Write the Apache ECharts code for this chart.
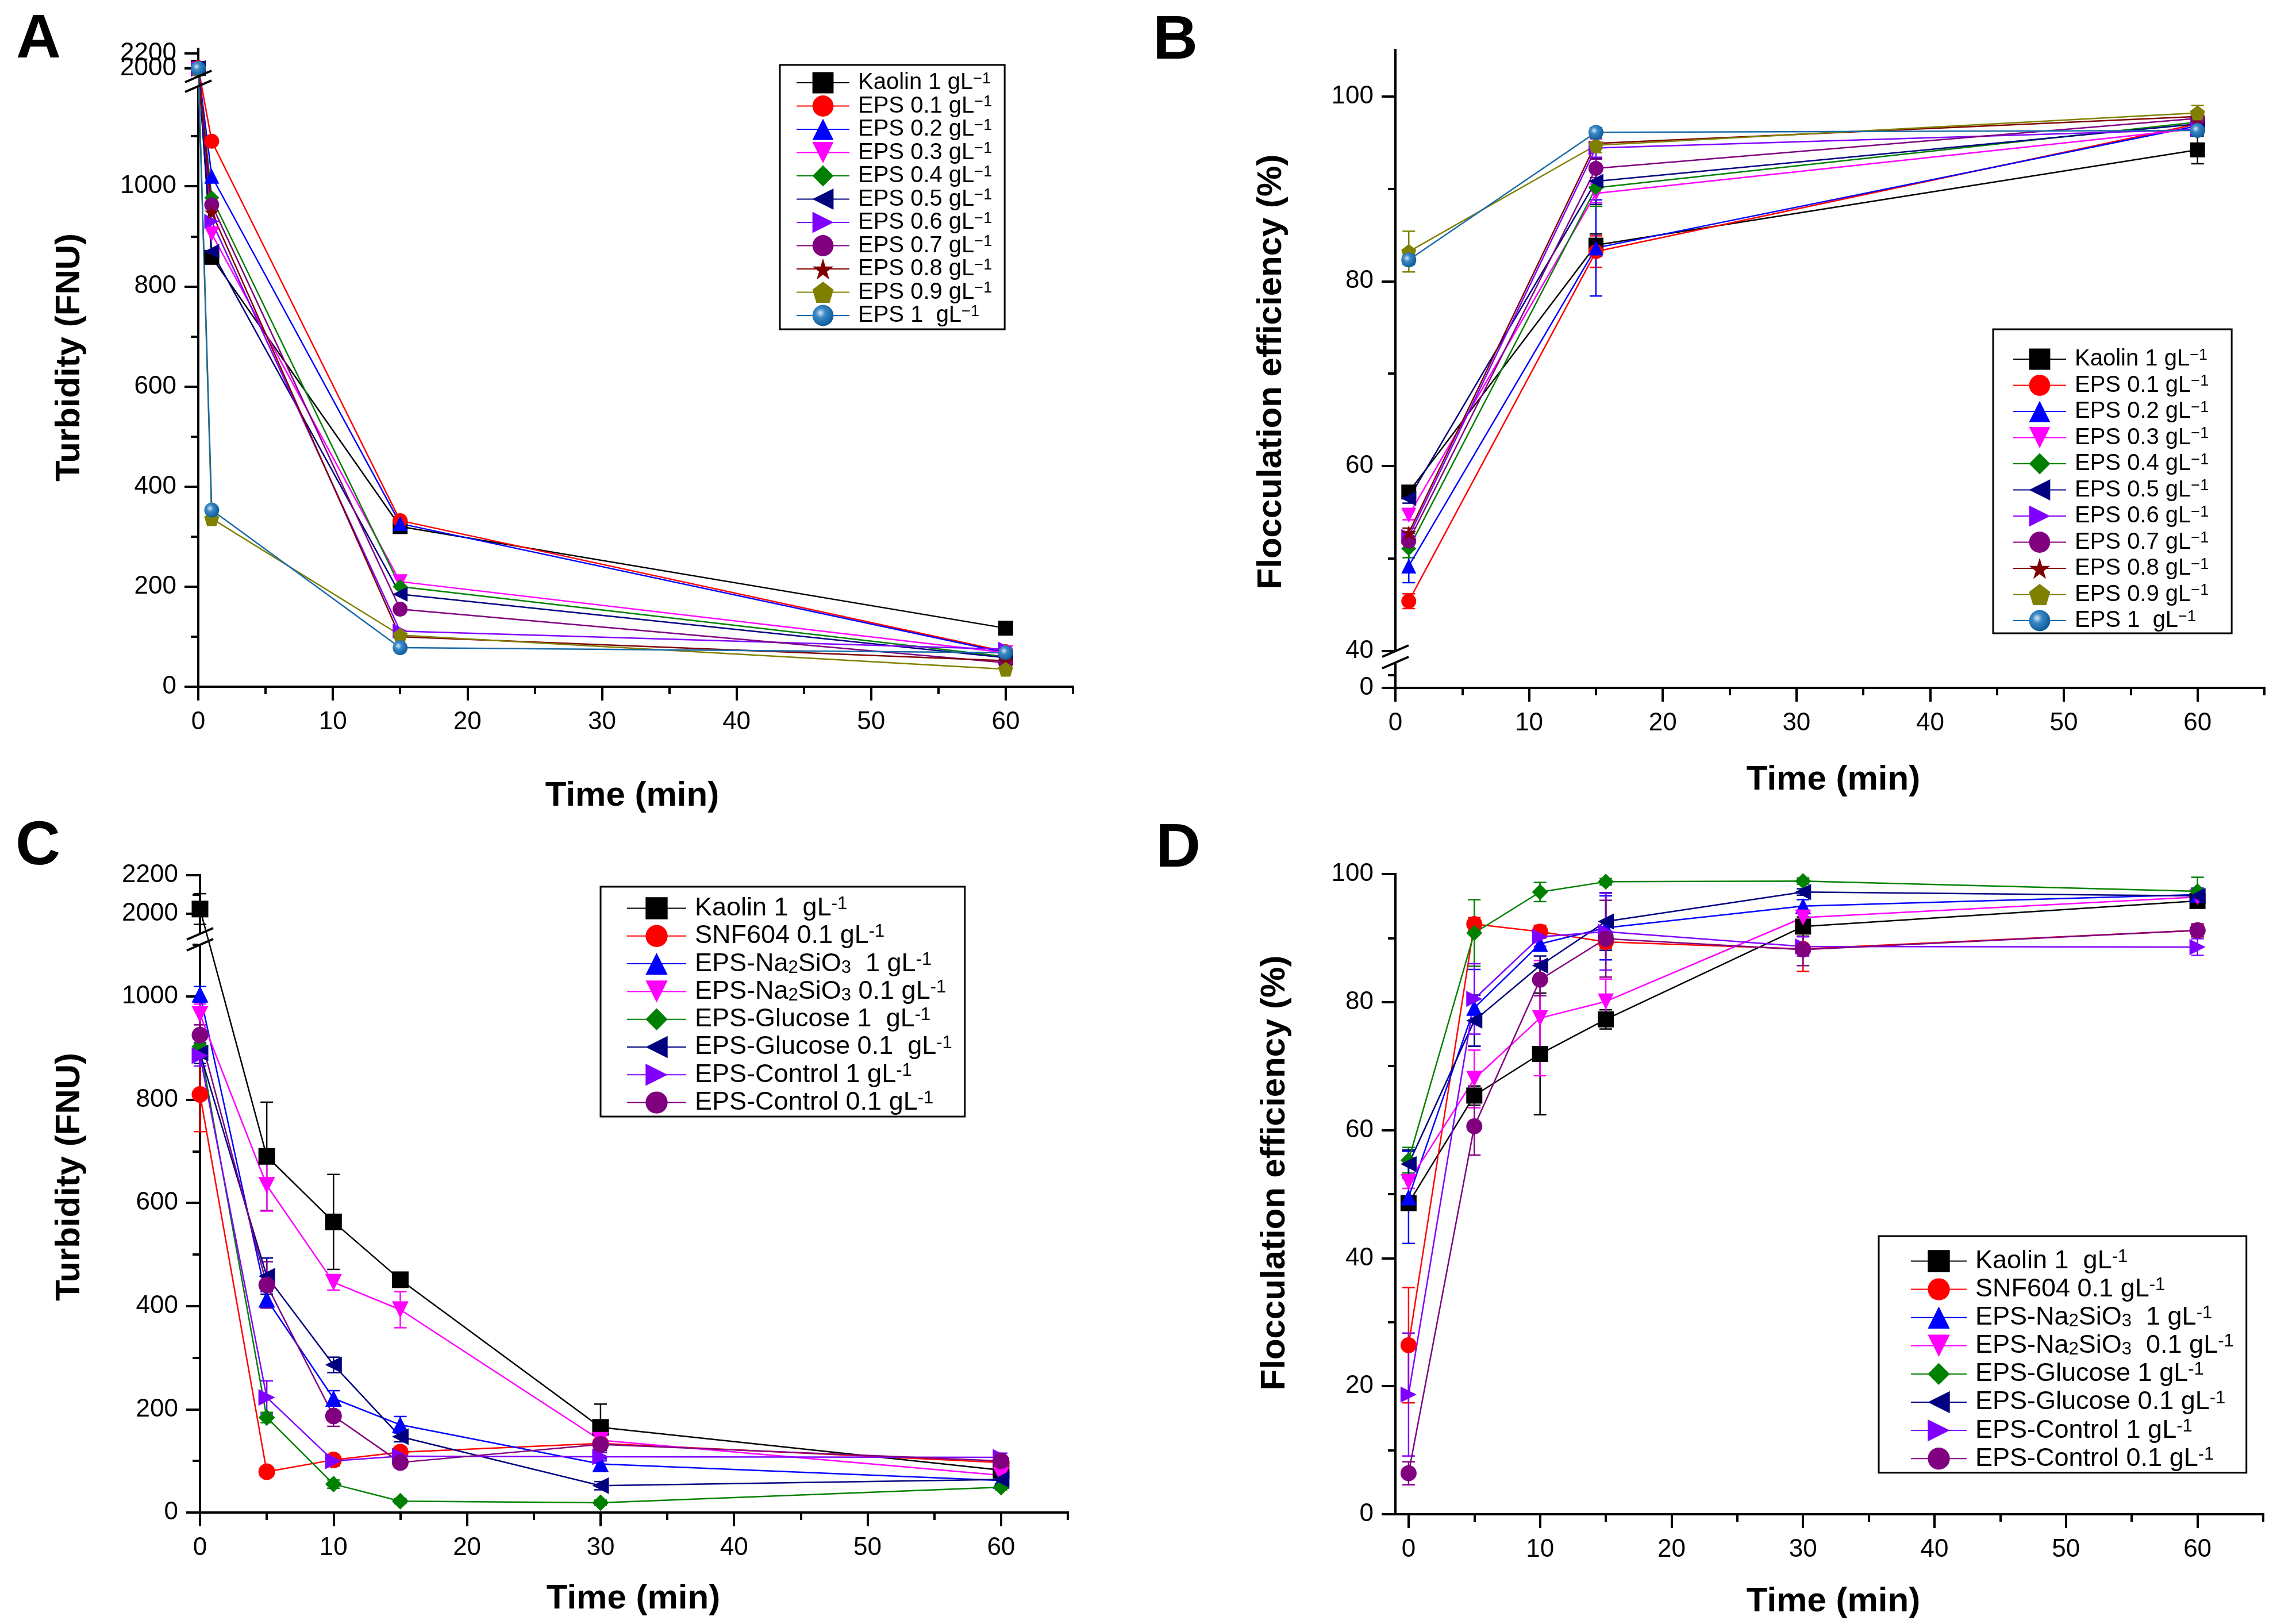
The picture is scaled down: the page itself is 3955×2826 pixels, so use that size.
<!DOCTYPE html>
<html>
<head>
<meta charset="utf-8">
<title>Turbidity and flocculation efficiency</title>
<script src="https://cdn.jsdelivr.net/npm/echarts@6.0.0/dist/echarts.min.js"></script>
<style>
  html, body { margin: 0; padding: 0; background: #fff; }
  #chart { width: 3955px; height: 2826px; }
</style>
</head>
<body>
<div id="chart"></div>
<script>
// ---- values ----
const TIMES_A = [0, 1, 15, 60];
const TIMES_B = [1, 15, 60];
const TIMES_CD = [0, 5, 10, 15, 30, 60];

// legend texts ({sup|..} / {sub|..} are rich-text fragments)
const LABELS_AB = [
  'Kaolin 1 gL{sup|−1}', 'EPS 0.1 gL{sup|−1}', 'EPS 0.2 gL{sup|−1}', 'EPS 0.3 gL{sup|−1}',
  'EPS 0.4 gL{sup|−1}', 'EPS 0.5 gL{sup|−1}', 'EPS 0.6 gL{sup|−1}', 'EPS 0.7 gL{sup|−1}',
  'EPS 0.8 gL{sup|−1}', 'EPS 0.9 gL{sup|−1}', 'EPS 1  gL{sup|−1}'
];
const LABELS_C = [
  'Kaolin 1  gL{sup|-1}', 'SNF604 0.1 gL{sup|-1}', 'EPS-Na{sub|2}SiO{sub|3}  1 gL{sup|-1}',
  'EPS-Na{sub|2}SiO{sub|3} 0.1 gL{sup|-1}', 'EPS-Glucose 1  gL{sup|-1}', 'EPS-Glucose 0.1  gL{sup|-1}',
  'EPS-Control 1 gL{sup|-1}', 'EPS-Control 0.1 gL{sup|-1}'
];
const LABELS_D = [
  'Kaolin 1  gL{sup|-1}', 'SNF604 0.1 gL{sup|-1}', 'EPS-Na{sub|2}SiO{sub|3}  1 gL{sup|-1}',
  'EPS-Na{sub|2}SiO{sub|3}  0.1 gL{sup|-1}', 'EPS-Glucose 1 gL{sup|-1}', 'EPS-Glucose 0.1 gL{sup|-1}',
  'EPS-Control 1 gL{sup|-1}', 'EPS-Control 0.1 gL{sup|-1}'
];

// A: turbidity (FNU), one row per legend entry
const TURB_A = [
  [2000, 858, 320, 117],
  [2010, 1090, 332, 70],
  [2005, 1020, 326, 68],
  [1990, 905, 210, 68],
  [2000, 977, 200, 60],
  [2010, 870, 185, 58],
  [1985, 930, 111, 75],
  [1995, 963, 155, 48],
  [2000, 948, 100, 52],
  [1990, 336, 103, 35],
  [2000, 353, 78, 68]
];

// B: flocculation efficiency (%)
const EFF_B = [
  [57.2, 83.9, 94.2],
  [45.4, 83.2, 97.0],
  [49.2, 83.6, 96.8],
  [54.7, 89.5, 96.5],
  [51.1, 90.1, 97.2],
  [56.5, 90.8, 97.0],
  [52.4, 94.4, 96.4],
  [51.9, 92.2, 97.6],
  [52.8, 94.9, 97.8],
  [83.2, 94.7, 98.2],
  [82.3, 96.1, 96.3]
];
const EFF_B_ERR = [
  [0.6, 1.2, 1.5],
  [0.8, 1.7, 0.5],
  [1.8, 5.2, 0.5],
  [0.5, 1.0, 0.5],
  [1.0, 2.0, 0.5],
  [0.5, 2.5, 0.5],
  [0.5, 1.0, 0.5],
  [0.8, 1.0, 0.8],
  [0.5, 0.6, 0.5],
  [2.2, 0.8, 0.8],
  [0.5, 0.5, 0.5]
];

// C: turbidity (FNU)
const TURB_C = [
  [2024, 690, 563, 451, 165, 82],
  [810, 79, 102, 117, 134, 97],
  [1004, 413, 221, 170, 94, 62],
  [965, 634, 446, 393, 140, 72],
  [903, 184, 55, 22, 19, 49],
  [890, 458, 286, 147, 52, 64],
  [885, 223, 100, 109, 108, 107],
  [925, 441, 187, 97, 132, 100]
];
const TURB_C_ERR = [
  [80, 105, 92, 12, 45, 10],
  [72, 8, 8, 10, 8, 8],
  [15, 15, 15, 16, 10, 8],
  [20, 50, 15, 35, 10, 8],
  [15, 10, 8, 5, 5, 5],
  [20, 35, 15, 10, 8, 8],
  [20, 32, 10, 10, 8, 8],
  [20, 45, 20, 10, 10, 8]
];

// D: flocculation efficiency (%)
const EFF_D = [
  [48.6, 65.4, 71.9, 77.3, 91.8, 95.8],
  [26.4, 92.2, 91.0, 89.4, 88.3, 91.2],
  [49.5, 79.1, 89.1, 91.6, 95.0, 96.8],
  [51.9, 68.0, 77.5, 80.1, 93.2, 96.4],
  [55.3, 90.8, 97.2, 98.8, 98.9, 97.3],
  [54.7, 77.1, 85.7, 92.6, 97.2, 96.6],
  [18.7, 80.5, 90.2, 91.0, 88.7, 88.6],
  [6.4, 60.6, 83.5, 89.9, 88.2, 91.2]
];
const EFF_D_ERR = [
  [1.0, 1.5, 9.5, 1.5, 1.5, 1.0],
  [9.0, 1.0, 1.0, 1.0, 3.5, 1.0],
  [7.2, 6.0, 1.0, 5.0, 1.0, 1.0],
  [1.0, 4.5, 9.0, 3.5, 1.0, 1.0],
  [2.0, 5.2, 1.5, 0.5, 0.5, 2.2],
  [2.2, 4.0, 1.5, 4.5, 0.5, 1.0],
  [9.6, 5.5, 1.5, 6.0, 1.5, 1.3],
  [1.8, 4.5, 2.5, 6.0, 2.5, 1.0]
];

// axis ticks
const X_MAJOR = [0, 10, 20, 30, 40, 50, 60];
const X_MINOR = [5, 15, 25, 35, 45, 55, 65];
const Y_MAJOR_A = [0, 200, 400, 600, 800, 1000, 2000, 2200];
const Y_MINOR_A = [100, 300, 500, 700, 900, 1100, 2100];
const Y_MAJOR_B = [0, 40, 60, 80, 100];
const Y_MINOR_B = [10, 50, 70, 90];
const Y_MAJOR_C = [0, 200, 400, 600, 800, 1000, 2000, 2200];
const Y_MINOR_C = [100, 300, 500, 700, 900, 1100, 2100];
const Y_MAJOR_D = [0, 20, 40, 60, 80, 100];
const Y_MINOR_D = [10, 30, 50, 70, 90];

// ---- styles ----
const FONT = "'Liberation Sans', Arial, Helvetica, sans-serif";
const STAR = 'path://M50,0 L61,35 L98,35 L68,57 L79,91 L50,70 L21,91 L32,57 L2,35 L39,35 Z';
const PENTA = 'path://M50,0 L98,36 L80,95 L20,95 L2,36 Z';
const SPHERE = {
  type: 'radial', x: 0.38, y: 0.38, r: 0.65,
  colorStops: [{ offset: 0, color: '#dbe9f5' }, { offset: 0.35, color: '#3b88c6' }, { offset: 1, color: '#0b5a96' }]
};
const COLORS_AB = ['#000000', '#ff0000', '#0000ff', '#ff00ff', '#008000', '#000080', '#8000ff', '#800080', '#800000', '#808000', '#1a6aa8'];
const SYMS_AB = ['rect', 'circle', 'triangle', 'triangle', 'diamond', 'triangle', 'triangle', 'circle', STAR, PENTA, 'circle'];
const ROTS_AB = [0, 0, 0, 180, 0, 90, -90, 0, 0, 0, 0];
const COLORS_CD = ['#000000', '#ff0000', '#0000ff', '#ff00ff', '#008000', '#000080', '#8000ff', '#800080'];
const SYMS_CD = ['rect', 'circle', 'triangle', 'triangle', 'diamond', 'triangle', 'triangle', 'circle'];
const ROTS_CD = [0, 0, 0, 180, 0, 90, -90, 0];

// piecewise-linear mapping for broken axes: value -> pixels above the x axis
function broken(segs) {
  const pick = v => {
    for (let i = 0; i < segs.length; i++) {
      const s = segs[i];
      if (v <= s.v1) {
        if (i > 0 && v < s.v0) return (v - segs[i - 1].v1) < (s.v0 - v) ? segs[i - 1] : s;
        return s;
      }
    }
    return segs[segs.length - 1];
  };
  return {
    segs,
    to: v => { const s = pick(v); return s.p0 + (v - s.v0) * (s.p1 - s.p0) / (s.v1 - s.v0); },
    from: p => {
      let s = segs[segs.length - 1];
      for (const t of segs) { if (p <= t.p1 + 0.5) { s = t; break; } }
      return s.v0 + (p - s.p0) * (s.v1 - s.v0) / (s.p1 - s.p0);
    },
    max: segs[segs.length - 1].p1
  };
}
const plain = { to: v => v, from: p => p, max: 100 };

const panels = [
  {
    key: 'A', grid: { left: 345, top: 85, width: 1522, height: 1110 }, xMin: 0, xMax: 65,
    y: broken([{ v0: 0, v1: 1200, p0: 0, p1: 1045 }, { v0: 1892, v1: 2262, p0: 1062, p1: 1110 }]),
    yMajor: Y_MAJOR_A, yMinor: Y_MINOR_A, yAltLabels: [2200], times: TIMES_A, values: TURB_A, errors: null,
    labels: LABELS_AB, colors: COLORS_AB, syms: SYMS_AB, rots: ROTS_AB, size: 26,
    legend: { left: 1357, top: 113, padding: [11, 22, 4, 28], itemWidth: 92, itemHeight: 46, itemGap: 0.5, font: 40 }
  },
  {
    key: 'B', grid: { left: 2428, top: 87, width: 1512, height: 1110 }, xMin: 0, xMax: 65,
    y: broken([{ v0: 0, v1: 20, p0: 0, p1: 44 }, { v0: 40, v1: 105, p0: 64, p1: 1110 }]),
    yMajor: Y_MAJOR_B, yMinor: Y_MINOR_B, yAltLabels: [], times: TIMES_B, values: EFF_B, errors: EFF_B_ERR,
    labels: LABELS_AB, colors: COLORS_AB, syms: SYMS_AB, rots: ROTS_AB, size: 26,
    legend: { left: 3468, top: 573, padding: [32, 40, 2, 34], itemWidth: 92, itemHeight: 46, itemGap: 5.5, font: 40 }
  },
  {
    key: 'C', grid: { left: 348, top: 1523, width: 1510, height: 1109 }, xMin: 0, xMax: 65,
    y: broken([{ v0: 0, v1: 1100, p0: 0, p1: 988 }, { v0: 1895, v1: 2200, p0: 1007, p1: 1109 }]),
    yMajor: Y_MAJOR_C, yMinor: Y_MINOR_C, yAltLabels: [], times: TIMES_CD, values: TURB_C, errors: TURB_C_ERR,
    labels: LABELS_C, colors: COLORS_CD, syms: SYMS_CD, rots: ROTS_CD, size: 29,
    legend: { left: 1045, top: 1543, padding: [15, 22, 2, 45], itemWidth: 103, itemHeight: 48, itemGap: 3.3, font: 45 }
  },
  {
    key: 'D', grid: { left: 2428, top: 1521, width: 1510, height: 1114 }, xMin: -1, xMax: 65,
    y: plain,
    yMajor: Y_MAJOR_D, yMinor: Y_MINOR_D, yAltLabels: [], times: TIMES_CD, values: EFF_D, errors: EFF_D_ERR,
    labels: LABELS_D, colors: COLORS_CD, syms: SYMS_CD, rots: ROTS_CD, size: 28,
    legend: { left: 3269, top: 2151, padding: [21, 22, 2, 55], itemWidth: 97, itemHeight: 48, itemGap: 4.1, font: 45 }
  }
];

const AXIS_LINE = { show: true, onZero: false, lineStyle: { color: '#000', width: 4, cap: 'square' } };
const TICK_STYLE = { color: '#000', width: 4 };
const TICK_FONT = { fontFamily: FONT, fontSize: 44, color: '#000' };

const grids = [], xAxes = [], yAxes = [], series = [], legends = [], graphics = [];

panels.forEach((p, pi) => {
  const g = p.grid;
  grids.push({ left: g.left, top: g.top, width: g.width, height: g.height, containLabel: false, outerBoundsMode: 'none' });
  const Y = p.y;
  const yMax = Y.max;
  const fmtY = v => String(Math.round(Y.from(v)));

  // main x axis + a second one only for the short minor ticks
  xAxes.push({
    type: 'value', gridIndex: pi, min: p.xMin, max: p.xMax, position: 'bottom', z: 0,
    axisLine: AXIS_LINE,
    axisTick: { show: true, length: 24, lineStyle: TICK_STYLE, customValues: X_MAJOR },
    axisLabel: Object.assign({ show: true, margin: 40, customValues: X_MAJOR, showMinLabel: true, showMaxLabel: true }, TICK_FONT),
    splitLine: { show: false }
  });
  xAxes.push({
    type: 'value', gridIndex: pi, min: p.xMin, max: p.xMax, position: 'top', offset: -g.height, z: 0,
    axisLine: { show: false, onZero: false },
    axisTick: { show: true, inside: true, length: 13, lineStyle: TICK_STYLE, customValues: X_MINOR },
    axisLabel: { show: false }, splitLine: { show: false }
  });
  // main y axis; the helper axis carries minor ticks and any label that would collide with a neighbour
  yAxes.push({
    type: 'value', gridIndex: pi, min: 0, max: yMax, position: 'left', z: 0,
    axisLine: AXIS_LINE,
    axisTick: { show: true, length: 24, lineStyle: TICK_STYLE, customValues: p.yMajor.map(Y.to) },
    axisLabel: Object.assign({
      show: true, margin: 38, hideOverlap: false, showMinLabel: true, showMaxLabel: true,
      customValues: p.yMajor.filter(v => p.yAltLabels.indexOf(v) < 0).map(Y.to),
      formatter: fmtY
    }, TICK_FONT),
    splitLine: { show: false }
  });
  yAxes.push({
    type: 'value', gridIndex: pi, min: 0, max: yMax, position: 'right', offset: -g.width, z: 0,
    axisLine: { show: false, onZero: false },
    axisTick: { show: true, inside: true, length: 13, lineStyle: TICK_STYLE, customValues: p.yMinor.map(Y.to) },
    axisLabel: Object.assign({
      show: p.yAltLabels.length > 0, inside: true, margin: 38, showMinLabel: true, showMaxLabel: true,
      customValues: p.yAltLabels.map(Y.to), formatter: fmtY
    }, TICK_FONT),
    splitLine: { show: false }
  });

  const names = [];
  p.values.forEach((vals, si) => {
    const name = p.key + si;
    names.push(name);
    const col = p.colors[si];
    const fill = (p.key === 'A' || p.key === 'B') && si === 10 ? SPHERE : col;
    if (p.errors) {
      const errs = p.errors[si];
      series.push({
        type: 'custom', name: 'err' + name, xAxisIndex: pi * 2, yAxisIndex: pi * 2, z: 2, silent: true,
        encode: { x: 0, y: [1, 2] },
        data: p.times.map((t, k) => [t, Y.to(vals[k] - errs[k]), Y.to(vals[k] + errs[k])]),
        renderItem: (params, api) => {
          const lo = api.coord([api.value(0), api.value(1)]);
          const hi = api.coord([api.value(0), api.value(2)]);
          const w = 11, st = { stroke: col, lineWidth: 2.5 };
          return {
            type: 'group', children: [
              { type: 'line', shape: { x1: lo[0], y1: lo[1], x2: hi[0], y2: hi[1] }, style: st },
              { type: 'line', shape: { x1: lo[0] - w, y1: lo[1], x2: lo[0] + w, y2: lo[1] }, style: st },
              { type: 'line', shape: { x1: hi[0] - w, y1: hi[1], x2: hi[0] + w, y2: hi[1] }, style: st }
            ]
          };
        }
      });
    }
    series.push({
      type: 'line', name, xAxisIndex: pi * 2, yAxisIndex: pi * 2, z: 3,
      data: p.times.map((t, k) => [t, Y.to(vals[k])]),
      symbol: p.syms[si], symbolRotate: p.rots[si], symbolSize: p.size, showAllSymbol: true,
      lineStyle: { color: col, width: 2.5 },
      itemStyle: { color: fill, borderWidth: 0 },
      emphasis: { disabled: true }, clip: false
    });
  });

  const L = p.legend;
  const supSize = Math.round(L.font * 0.68);
  legends.push({
    orient: 'vertical', left: L.left, top: L.top, padding: L.padding,
    itemWidth: L.itemWidth, itemHeight: L.itemHeight, itemGap: L.itemGap,
    borderColor: '#000', borderWidth: 3, backgroundColor: '#fff', selectedMode: false,
    data: names,
    formatter: n => p.labels[+n.slice(1)],
    textStyle: {
      fontFamily: FONT, fontSize: L.font, color: '#000', lineHeight: L.font, padding: [0, 0, 0, 10],
      rich: {
        sup: { fontFamily: FONT, fontSize: supSize, color: '#000', lineHeight: 14, verticalAlign: 'top' },
        sub: { fontFamily: FONT, fontSize: supSize, color: '#000', lineHeight: 14, verticalAlign: 'bottom' }
      }
    }
  });

  // axis-break marks
  if (Y.segs) {
    const ax = g.left;
    const yU = g.top + g.height - Y.segs[1].p0;
    const yL = g.top + g.height - Y.segs[0].p1;
    graphics.push({ type: 'rect', z: 1, shape: { x: ax - 3, y: yU, width: 6, height: yL - yU }, style: { fill: '#fff' } });
    [yU, yL].forEach(yy => graphics.push({
      type: 'line', z: 100, shape: { x1: ax - 23, y1: yy + 10, x2: ax + 23, y2: yy - 10 },
      style: { stroke: '#000', lineWidth: 4 }
    }));
  }
});

// titles and panel letters
const TITLE_FONT = 'bold 60px ' + FONT;
const texts = [
  { t: 'Turbidity (FNU)', x: 121, y: 622, r: true },
  { t: 'Time (min)', x: 1100, y: 1385 },
  { t: 'Flocculation efficiency (%)', x: 2212, y: 647, r: true },
  { t: 'Time (min)', x: 3190, y: 1357 },
  { t: 'Turbidity (FNU)', x: 121, y: 2048, r: true },
  { t: 'Time (min)', x: 1102, y: 2782 },
  { t: 'Flocculation efficiency (%)', x: 2218, y: 2041, r: true },
  { t: 'Time (min)', x: 3190, y: 2787 },
  { t: 'A', x: 67, y: 70, big: true },
  { t: 'B', x: 2045, y: 72, big: true },
  { t: 'C', x: 66, y: 1474, big: true },
  { t: 'D', x: 2050, y: 1478, big: true }
];
texts.forEach(o => graphics.push({
  type: 'text', x: o.x, y: o.y, rotation: o.r ? Math.PI / 2 : 0, z: 100,
  style: {
    text: o.t, font: o.big ? 'bold 108px ' + FONT : TITLE_FONT, fill: '#000',
    align: 'center', verticalAlign: 'middle', textAlign: 'center', textVerticalAlign: 'middle'
  }
}));

const chart = echarts.init(document.getElementById('chart'), null, { renderer: 'canvas' });
chart.setOption({
  animation: false,
  backgroundColor: '#fff',
  grid: grids,
  xAxis: xAxes,
  yAxis: yAxes,
  legend: legends,
  series: series,
  graphic: { elements: graphics }
});
</script>
</body>
</html>
